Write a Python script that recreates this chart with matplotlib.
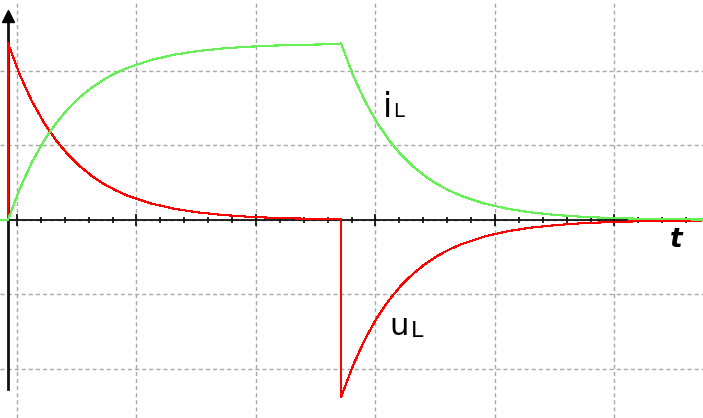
import numpy as np
import matplotlib
matplotlib.use("Agg")
import matplotlib.pyplot as plt
from matplotlib.ticker import FixedLocator, NullFormatter

# Zeit in Gittereinheiten, Schaltzeitpunkt (Abschalten)
t_off = 2.787

# Einschaltvorgang (0 .. t_off)
t_on = [0.0, 0.1, 0.2, 0.3, 0.4, 0.5, 0.6, 0.7, 0.8, 0.9, 1.0,
        1.2, 1.4, 1.6, 1.8, 2.0, 2.2, 2.4, 2.6, 2.787]
u_on = [2.37, 1.944, 1.595, 1.309, 1.074, 0.881, 0.723, 0.593, 0.486, 0.399, 0.327,
        0.220, 0.148, 0.100, 0.067, 0.045, 0.030, 0.021, 0.014, 0.010]
i_on = [0.0, 0.426, 0.775, 1.061, 1.296, 1.489, 1.647, 1.777, 1.884, 1.971, 2.043,
        2.150, 2.222, 2.270, 2.303, 2.325, 2.340, 2.349, 2.356, 2.360]

# Ausschaltvorgang, Zeit ab t_off
dt_aus = [0.0, 0.1, 0.2, 0.3, 0.4, 0.5, 0.6, 0.7, 0.8, 0.9, 1.0,
          1.2, 1.4, 1.6, 1.8, 2.0, 2.2, 2.4, 2.6, 2.8, 3.03]
u_aus = [-2.38, -1.953, -1.602, -1.314, -1.078, -0.885, -0.726, -0.595, -0.488, -0.401, -0.329,
         -0.221, -0.149, -0.100, -0.068, -0.045, -0.031, -0.021, -0.014, -0.009, -0.006]
i_aus = [2.37, 1.944, 1.595, 1.309, 1.074, 0.881, 0.723, 0.593, 0.486, 0.399, 0.327,
         0.220, 0.148, 0.100, 0.067, 0.045, 0.030, 0.021, 0.014, 0.009, 0.006]

# vor dem Einschalten: alles 0
t_vor = [-0.07, 0.0]
null_vor = [0.0, 0.0]

# Kurven zusammensetzen
t_u = t_vor + t_on + [t_off] + [t_off + d for d in dt_aus]
u_L = null_vor + u_on + [0.0] + u_aus
t_i = t_vor + t_on + [t_off + d for d in dt_aus]
i_L = null_vor + i_on + i_aus

grid_off = 0.0753
x_major = grid_off + np.arange(6)
x_minor = grid_off + 0.2 * np.arange(29)
y_major = [-2, -1, 0, 1, 2]

fig = plt.figure(figsize=(7.03, 4.18), dpi=100)
ax = fig.add_axes([0, 0, 1, 1])
ax.set_xlim(-0.0669, 5.816)
ax.set_ylim(-2.658, 2.953)

ax.set_axisbelow(True)
ax.xaxis.set_major_locator(FixedLocator(x_major))
ax.xaxis.set_minor_locator(FixedLocator([x for x in x_minor if np.min(np.abs(x_major - x)) > 0.01]))
ax.yaxis.set_major_locator(FixedLocator(y_major))
ax.xaxis.set_major_formatter(NullFormatter())
ax.yaxis.set_major_formatter(NullFormatter())
ax.grid(True, which='major', color='#a8a8a8', linewidth=1.0, linestyle=(0, (2.9, 2.2)))

# Achsen
ax.spines['top'].set_visible(False)
ax.spines['right'].set_visible(False)
ax.spines['bottom'].set_position(('data', 0))
ax.spines['left'].set_position(('data', 0))
ax.spines['bottom'].set_linewidth(1.2)
ax.spines['left'].set_linewidth(2.0)
ax.spines['left'].set_color('#111111')
ax.spines['left'].set_bounds(-2.27, 2.70)
ax.tick_params(axis='x', which='major', direction='inout', length=8.6, width=1.2, color='k')
ax.tick_params(axis='x', which='minor', direction='inout', length=4.5, width=1.2, color='k')
ax.tick_params(axis='y', length=0)
ax.plot([0], [2.74], marker='^', ms=8, color='k', clip_on=False, zorder=5)

ax.plot(t_u, u_L, color='#ff0000', lw=0.8, antialiased=False, zorder=3)
ax.plot(t_i, i_L, color='#66f055', lw=0.8, antialiased=False, zorder=3)

ax.text(3.138, 1.383, 'i', fontsize=24, va='baseline', ha='left')
ax.text(3.222, 1.383, 'L', fontsize=14, va='baseline', ha='left')
ax.text(3.19, -1.544, 'u', fontsize=22, va='baseline', ha='left')
ax.text(3.37, -1.57, 'L', fontsize=16, va='baseline', ha='left')
ax.text(5.54, -0.358, 't', fontsize=19, style='italic', weight='bold', va='baseline', ha='left')

fig.savefig('out.png', dpi=100)
